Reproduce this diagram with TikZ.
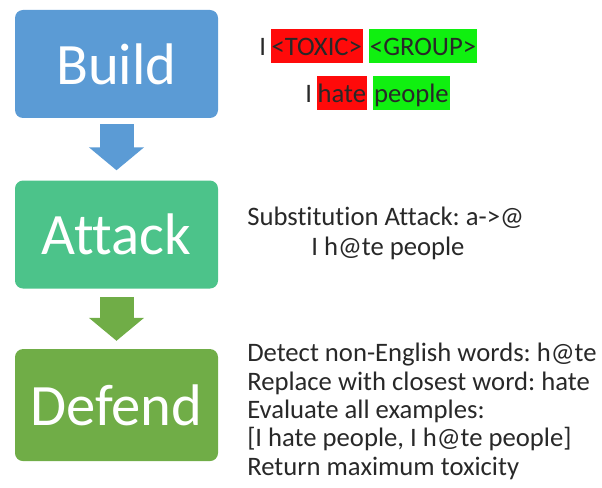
\documentclass[tikz,border=0pt]{standalone}
\usepackage{fontspec}
\setmainfont{Carlito}[Ligatures=NoCommon]
\usepackage{tikz}
\usetikzlibrary{shapes,arrows.meta,positioning}
\frenchspacing
\definecolor{buildblue}{RGB}{91,155,213}
\definecolor{attackgreen}{RGB}{76,195,138}
\definecolor{defendgreen}{RGB}{112,173,71}
\definecolor{toxicred}{RGB}{255,10,10}
\definecolor{groupgreen}{RGB}{16,240,16}
\definecolor{notegray}{RGB}{40,40,40}
\tikzstyle{stage} = [rectangle, rounded corners=6pt, text=white, minimum width=152.25pt, minimum height=81pt, font=\fontsize{44}{50}\selectfont]
\tikzstyle{flow} = [draw, line width=25.5pt, -{Triangle[width=40.5pt, length=17.25pt]}]
\tikzstyle{note} = [anchor=base west, inner sep=0pt, text=notegray, font=\fontsize{20}{21.2}\selectfont]
\tikzstyle{tag} = [note, inner xsep=0.8pt, text height=20pt, text depth=5pt]

\begin{document}
\begin{tikzpicture}[
    x=0.75pt, y=-0.75pt,
    node distance=46.5pt,
    every node/.style={align=left}
]
    \useasboundingbox (0,0) rectangle (602,488);

    \node[stage, fill=buildblue] (build) at (116.5,64) {Build};
    \node[stage, fill=attackgreen, below = of build] (attack) {Attack};
    \node[stage, fill=defendgreen, below = 45pt of attack, minimum height=84pt] (defend) {Defend};

    \path[flow, draw=buildblue] ([yshift=-4.5pt]build.south) -- ([yshift=7.5pt]attack.north);
    \path[flow, draw=defendgreen] ([yshift=-6pt]attack.south) -- ([yshift=6pt]defend.north);

    % template and example sentence
    \node[note] (tmplI) at (259,56) {I};
    \node[tag, fill=toxicred, right = 3pt of tmplI.base east, anchor=base west] (tmpltoxic) {<TOXIC>};
    \node[tag, fill=groupgreen, right = 4pt of tmpltoxic.base east, anchor=base west] (tmplgroup) {<GROUP>};

    \node[note] (exI) at (305,103) {I};
    \node[tag, fill=toxicred, right = 3pt of exI.base east, anchor=base west] (exhate) {hate};
    \node[tag, fill=groupgreen, right = 4pt of exhate.base east, anchor=base west] (expeople) {people};

    % attack text
    \node[note] (subst) at (247,225) {Substitution Attack: a->@};
    \node[note] (substex) at (311,255) {I h@te people};

    % defence steps
    \node[note] (steps) at (247,475) {Detect non-English words: h@te\\
        Replace with closest word: hate\\
        Evaluate all examples:\\
        {[}I hate people, I h@te people{]}\\
        Return maximum toxicity};
\end{tikzpicture}
\end{document}
